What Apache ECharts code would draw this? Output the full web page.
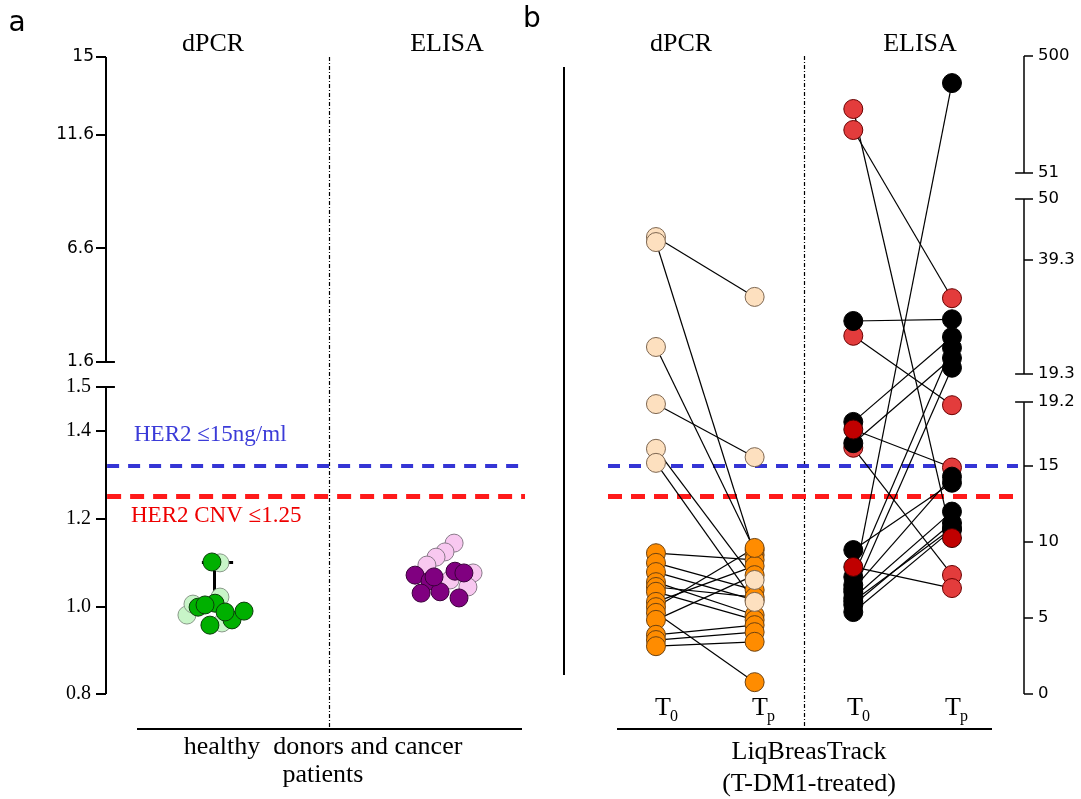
<!DOCTYPE html>
<html><head><meta charset="utf-8">
<script src="https://cdn.jsdelivr.net/npm/echarts@6/dist/echarts.min.js"></script>
<style>html,body{margin:0;padding:0;background:#fff}#c{width:1081px;height:799px}</style>
</head><body><div id="c"></div>
<script>
// ---------------- data ----------------
// broken-axis tick values and labels
const aLowTickValues = [0.8, 1.0, 1.2, 1.4, 1.5];
const aLowTickLabels = ['0.8', '1.0', '1.2', '1.4', '1.5'];
const aHighTickValues = [1.6, 6.6, 11.6, 15];
const aHighTickLabels = ['1.6', '6.6', '11.6', '15'];
const bTickValues = [0, 5, 10, 15, 19.2, 19.3, 39.3, 50, 51, 500];
const bTickLabels = ['0', '5', '10', '15', '19.2', '19.3', '39.3', '50', '51', '500'];

// panel a: healthy donors and cancer patients (ratio values), beeswarm offsets
const panelAGroups = ['dPCR', 'ELISA'];
const hdDpcrDark = [1.101, 0.998, 1.007, 0.957, 0.969, 0.989, 0.987, 1.003];
const hdDpcrDarkOffset = [-0.025, -0.087, -0.011, -0.034, 0.065, 0.119, 0.034, -0.056];
const hdDpcrLight = [1.099, 0.980, 1.021, 0.962, 1.005];
const hdDpcrLightOffset = [0.011, -0.137, 0.011, 0.020, -0.110];
const hdElisaDark = [1.071, 1.058, 1.030, 1.033, 1.080, 1.076, 1.019, 1.067];
const hdElisaDarkOffset = [-0.114, -0.047, -0.087, -0.002, 0.065, 0.105, 0.083, -0.029];
const hdElisaLight = [1.144, 1.124, 1.112, 1.076, 1.044, 1.094, 1.060];
const hdElisaLightOffset = [0.061, 0.020, -0.020, 0.146, 0.123, -0.061, 0.043];
const hdDpcrBar = [1.02, 1.10];
const hdDpcrBarOffset = -0.016;

// thresholds
const cnvThreshold = 1.25;
const her2Threshold = 15;

// panel b: LiqBreasTrack paired samples
const timepoints = ['T0', 'Tp'];
const dpcrT0 = [7.09, 6.87, 2.26, 1.461, 1.359, 1.327, 1.121, 1.099, 1.078, 1.055, 1.044, 1.033, 1.010, 0.998, 0.985, 0.969, 0.935, 0.923, 0.909];
const dpcrTp = [4.46, 1.117, 1.128, 1.340, 1.060, 1.010, 1.106, 1.037, 1.014, 0.980, 1.021, 0.969, 1.092, 1.133, 0.827, 1.071, 0.957, 0.941, 0.919];
const dpcrT0Class = ['pos','pos','pos','pos','pos','pos','neg','neg','neg','neg','neg','neg','neg','neg','neg','neg','neg','neg','neg'];
const dpcrTpClass = ['pos','neg','neg','pos','pos','pos','neg','neg','neg','neg','neg','neg','neg','neg','neg','neg','neg','neg','neg'];

const elisaT0 = [296.6, 216, 28.6, 26.0, 17.9, 17.4, 16.5, 16.2, 9.47, 8.36, 7.70, 7.17, 6.90, 6.71, 6.32, 6.10, 5.86, 5.39];
const elisaTp = [10.26, 32.6, 28.9, 19.0, 25.8, 14.9, 22.1, 7.83, 13.9, 6.97, 23.9, 396, 14.3, 20.4, 12.0, 10.9, 11.25, 10.8];
const elisaT0Class = ['h','h','b','h','b','r','b','h','b','r','b','b','b','b','b','b','b','b'];
const elisaTpClass = ['r','h','b','h','b','h','b','h','b','h','b','b','b','b','b','b','b','b'];

// ---------------- scales (broken axes) ----------------
function tA(v) { return v <= 1.5 ? (v - 0.8) * 438.6 : 332 + (v - 1.6) * 22.76; }
function tB(v) {
  if (v <= 19.2) return v * 15.2;
  if (v <= 50) return 320 + (v - 19.3) * 5.70;
  return 521 + (v - 51) * 0.2606;
}
const A_YMAX = tA(15), B_YMAX = tB(500);

const SERIF = 'Liberation Serif';
const SANS = 'DejaVu Sans';

function fmt(ticks, labels, t) {
  return function (val) {
    for (let i = 0; i < ticks.length; i++) {
      if (Math.abs(t(ticks[i]) - val) < 0.6) return labels[i];
    }
    return '';
  };
}

function groupPoints(vals, offs, gi) { return vals.map((v, i) => [gi + 0.5 + offs[i], tA(v)]); }

function classPoints(t0, tp, c0, cp, cls, x0, t) {
  const out = [];
  t0.forEach((v, i) => { if (c0[i] === cls) out.push([x0, t(v)]); });
  tp.forEach((v, i) => { if (cp[i] === cls) out.push([x0 + 1, t(v)]); });
  return out;
}

function pairLines(t0, tp, x0, t) {
  return t0.map((v, i) => ({ coords: [[x0, t(v)], [x0 + 1, t(tp[i])]] }));
}

const chart = echarts.init(document.getElementById('c'), null, { renderer: 'canvas' });

const A_XMAX = 2, B_XMIN = -0.932, B_XMAX = 3.730;

function sc(name, data, xi, yi, color, border, size) {
  return {
    type: 'scatter', name, data, xAxisIndex: xi, yAxisIndex: yi,
    symbol: 'circle', symbolSize: size, silent: true, z: 3,
    itemStyle: { color, borderColor: border, borderWidth: 1, opacity: 1 },
    emphasis: { disabled: true }, animation: false
  };
}
function ln(data, xi, yi, color, width, type) {
  return {
    type: 'lines', coordinateSystem: 'cartesian2d', xAxisIndex: xi, yAxisIndex: yi,
    data, silent: true, clip: false, z: 2, animation: false,
    lineStyle: { color, width, type: type || 'solid', opacity: 1, curveness: 0 }
  };
}

const axisA = [
  { coords: [[0, tA(0.8)], [0, tA(1.5)]] },
  { coords: [[0, tA(1.6)], [0, tA(15)]] },
  { coords: [[0, tA(1.5)], [0.04, tA(1.5)]] },
  { coords: [[0, tA(1.6)], [0.04, tA(1.6)]] }
];
const axisB = [
  { coords: [[B_XMAX, tB(0)], [B_XMAX, tB(19.2)]] },
  { coords: [[B_XMAX, tB(19.3)], [B_XMAX, tB(50)]] },
  { coords: [[B_XMAX, tB(51)], [B_XMAX, tB(500)]] },
  { coords: [[B_XMAX, tB(19.2)], [B_XMAX - 0.09, tB(19.2)]] },
  { coords: [[B_XMAX, tB(19.3)], [B_XMAX - 0.09, tB(19.3)]] },
  { coords: [[B_XMAX, tB(50)], [B_XMAX - 0.09, tB(50)]] },
  { coords: [[B_XMAX, tB(51)], [B_XMAX - 0.09, tB(51)]] }
];

const barData = [
  { coords: [[0.5 + hdDpcrBarOffset, tA(hdDpcrBar[0])], [0.5 + hdDpcrBarOffset, tA(hdDpcrBar[1])]] },
  { coords: [[0.43, tA(hdDpcrBar[1])], [0.57, tA(hdDpcrBar[1])]] }
];

function txt(text, x, y, font, fill, align) {
  return { type: 'text', x, y, silent: true,
    style: { text, font, fill: fill || '#000', textAlign: align || 'center', align: align || 'center',
      textVerticalAlign: 'middle', verticalAlign: 'middle' } };
}
function gline(x1, y1, x2, y2, w, dash) {
  return { type: 'line', silent: true, shape: { x1, y1, x2, y2 },
    style: { stroke: '#000', lineWidth: w, lineDash: dash || null } };
}
function tsub(main, sub, x, y) {
  return [txt(main, x, y, '26px "' + SERIF + '"', '#000', 'left'), txt(sub, x + 15, y + 9, '16px "' + SERIF + '"', '#000', 'left')];
}

function yAx(grid, max, pos, ticks, labels, t, family, size, margin, tickLen, tickW) {
  const cv = ticks.map(t);
  return {
    gridIndex: grid, type: 'value', min: 0, max, position: pos,
    axisLine: { show: false, onZero: false }, splitLine: { show: false },
    axisTick: { show: true, length: tickLen, inside: false, customValues: cv, lineStyle: { color: '#000', width: tickW } },
    axisLabel: { show: true, margin, customValues: cv, formatter: fmt(ticks, labels, t),
      fontFamily: family, fontSize: size, color: '#000' }
  };
}

const option = {
  backgroundColor: '#fff',
  animation: false,
  grid: [
    { left: 106, top: 694 - A_YMAX, width: 446, height: A_YMAX, outerBoundsMode: 'none', containLabel: false },
    { left: 564, top: 694 - B_YMAX, width: 460, height: B_YMAX, outerBoundsMode: 'none', containLabel: false }
  ],
  xAxis: [
    { gridIndex: 0, type: 'value', min: 0, max: A_XMAX, show: false },
    { gridIndex: 1, type: 'value', min: B_XMIN, max: B_XMAX, show: false }
  ],
  yAxis: [
    yAx(0, A_YMAX, 'left', aLowTickValues, aLowTickLabels, tA, SERIF, 20, 15, 10, 2),
    yAx(0, A_YMAX, 'left', aHighTickValues, aHighTickLabels, tA, SANS, 17, 12, 10, 2),
    yAx(1, B_YMAX, 'right', bTickValues, bTickLabels, tB, SANS, 16.5, 14, 9, 1.5)
  ],
  series: [
    // panel a
    ln(axisA, 0, 0, '#000', 2),
    ln([{ coords: [[0.005, tB(her2Threshold)], [1.879, tB(her2Threshold)]] }], 0, 0, '#3535d5', 4, [12, 9]),
    ln([{ coords: [[0.005, tA(cnvThreshold)], [1.879, tA(cnvThreshold)]] }], 0, 0, '#ff1a1a', 5, [14, 9]),
    ln(barData, 0, 0, '#000', 3),
    sc('dPCR light', groupPoints(hdDpcrLight, hdDpcrLightOffset, 0), 0, 0, '#c8f5c8', '#8a9a8a', 18),
    sc('dPCR', groupPoints(hdDpcrDark, hdDpcrDarkOffset, 0), 0, 0, '#00b000', '#0b3d0b', 18),
    sc('ELISA light', groupPoints(hdElisaLight, hdElisaLightOffset, 1), 0, 0, '#f8c8f0', '#8a7a8a', 18),
    sc('ELISA', groupPoints(hdElisaDark, hdElisaDarkOffset, 1), 0, 0, '#800080', '#3a003a', 18),
    // panel b
    ln(axisB, 1, 2, '#000', 1.5),
    ln([{ coords: [[-0.486, tB(her2Threshold)], [3.669, tB(her2Threshold)]] }], 1, 2, '#3535d5', 4, [12, 9]),
    ln([{ coords: [[-0.486, tA(cnvThreshold)], [3.669, tA(cnvThreshold)]] }], 1, 2, '#ff1a1a', 5, [14, 9]),
    ln(pairLines(dpcrT0, dpcrTp, 0, tA).concat(pairLines(elisaT0, elisaTp, 2, tB)), 1, 2, '#000', 1.2),
    sc('dPCR neg', classPoints(dpcrT0, dpcrTp, dpcrT0Class, dpcrTpClass, 'neg', 0, tA), 1, 2, '#ff8c00', '#6e4210', 19),
    sc('dPCR pos', classPoints(dpcrT0, dpcrTp, dpcrT0Class, dpcrTpClass, 'pos', 0, tA), 1, 2, '#fde0bf', '#7d6650', 19),
    sc('ELISA hatched', classPoints(elisaT0, elisaTp, elisaT0Class, elisaTpClass, 'h', 2, tB), 1, 2, '#e33c3c', '#6a0000', 19),
    sc('ELISA black', classPoints(elisaT0, elisaTp, elisaT0Class, elisaTpClass, 'b', 2, tB), 1, 2, '#000000', '#000000', 19),
    sc('ELISA red', classPoints(elisaT0, elisaTp, elisaT0Class, elisaTpClass, 'r', 2, tB), 1, 2, '#c00000', '#3a0000', 19)
  ],
  graphic: { elements: [
    txt('a', 17, 24, '28px "' + SANS + '"'),
    txt('b', 532, 20, '28px "' + SANS + '"'),
    txt(panelAGroups[0], 213, 44, '26px "' + SERIF + '"'),
    txt(panelAGroups[1], 447, 44, '26px "' + SERIF + '"'),
    txt('dPCR', 681, 44, '26px "' + SERIF + '"'),
    txt('ELISA', 920, 44, '26px "' + SERIF + '"'),
    txt('HER2 \u226415ng/ml', 134, 435, '23px "' + SERIF + '"', '#3b3bd8', 'left'),
    txt('HER2 CNV \u22641.25', 131, 516, '23px "' + SERIF + '"', '#ee0000', 'left'),
    gline(329.5, 57, 329.5, 729, 1.2, [4, 2, 1, 2]),
    gline(137, 729, 522, 729, 2),
    txt('healthy  donors and cancer', 323, 747, '26px "' + SERIF + '"'),
    txt('patients', 323, 775, '26px "' + SERIF + '"'),
    gline(564, 67, 564, 675, 2),
    gline(804.5, 56, 804.5, 729, 1.2, [4, 2, 1, 2]),
    gline(617, 729, 992, 729, 2),
    txt('LiqBreasTrack', 809, 752, '26px "' + SERIF + '"'),
    txt('(T-DM1-treated)', 809, 784, '26px "' + SERIF + '"')
  ].concat(tsub('T', '0', 655, 708), tsub('T', 'p', 752, 708), tsub('T', '0', 847, 708), tsub('T', 'p', 945, 708)) }
};

chart.setOption(option);
</script>
</body></html>
